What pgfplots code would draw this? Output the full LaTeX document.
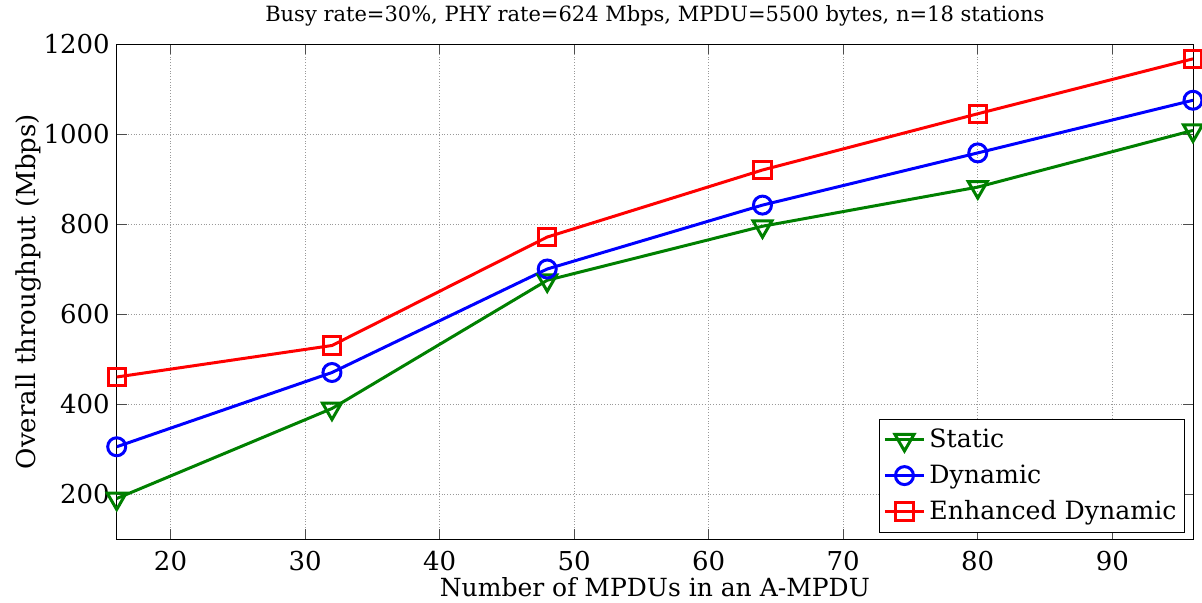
\documentclass[border=0pt]{standalone}
\usepackage{pgfplots}
\pgfplotsset{compat=1.18}
\usepackage{fontspec}
\setmainfont{DejaVu Serif}
\definecolor{mgreen}{rgb}{0,0.5,0}
\begin{document}
\begin{tikzpicture}
\begin{axis}[
  scale only axis,
  width=538.15pt, height=247.5pt,
  xmin=16, xmax=96, ymin=100, ymax=1200,
  xtick={20,30,...,90},
  ytick={200,400,...,1200},
  grid=major,
  major grid style={densely dotted, gray!80, line width=0.5pt},
  tick align=inside,
  major tick length=5pt,
  tick style={line width=0.5pt, black!70},
  axis line style={line width=0.5pt},
  tick label style={font=\fontsize{13}{15}\selectfont},
  xticklabel style={anchor=base, yshift=-15.9pt, inner sep=0pt},
  yticklabel style={anchor=east, inner sep=0pt, xshift=-3.3pt},
  /pgf/number format/assume math mode=true,
  /pgf/number format/set thousands separator={},
  xlabel={Number of MPDUs in an A-MPDU},
  ylabel={Overall throughput (Mbps)},
  xlabel style={font=\fontsize{12.5}{15}\selectfont, at={(axis description cs:0.5,0)}, anchor=base, inner sep=0pt, yshift=-28.5pt},
  ylabel style={font=\fontsize{13}{15}\selectfont, at={([xshift=-40.5pt]axis description cs:0,0.5)}, anchor=base, inner sep=0pt},
  title={Busy rate=30\%, PHY rate=624 Mbps, MPDU=5500 bytes, n=18 stations},
  title style={font=\fontsize{10.5}{12}\selectfont, at={(axis description cs:0.5,1)}, anchor=base, inner sep=0pt, yshift=5.5pt},
  legend style={at={(1,0)}, anchor=south east, xshift=-4pt, yshift=3pt,
    font=\fontsize{12.6}{15}\selectfont, draw=black, line width=0.5pt,
    row sep=3pt, inner xsep=2pt, inner ysep=3pt, cells={anchor=west}},
  legend cell align=left,
  legend image code/.code={\draw[mark repeat=2,mark phase=2] plot coordinates {(0pt,0pt) (9.75pt,0pt) (19.5pt,0pt)};},
  every axis plot/.append style={line width=1.5pt},
]
\addplot[mgreen, mark=triangle, mark size=5.5pt, mark options={rotate=180, solid}]
  coordinates {(16,190) (32,390) (48,675) (64,795) (80,882) (96,1008)};
\addlegendentry{Static}
\addplot[blue, mark=o, mark size=4.5pt]
  coordinates {(16,305) (32,470) (48,700) (64,842) (80,958) (96,1075)};
\addlegendentry{Dynamic}
\addplot[red, mark=square, mark size=4.3pt]
  coordinates {(16,460) (32,530) (48,771) (64,920) (80,1045) (96,1167)};
\addlegendentry{Enhanced Dynamic}
\coordinate (ll) at (rel axis cs:0,0);
\end{axis}
\pgfresetboundingbox
\path[use as bounding box] ([xshift=-58.35pt,yshift=-31.5pt]ll) rectangle ++(601pt,301pt);
\end{tikzpicture}
\end{document}
